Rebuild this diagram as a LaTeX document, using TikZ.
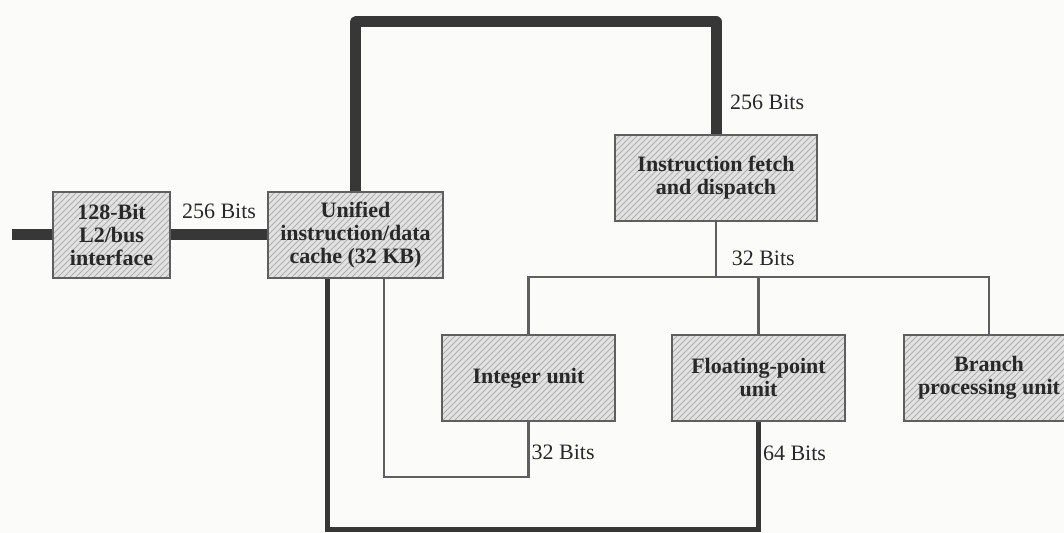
\documentclass[tikz,border=0pt]{standalone}
\usepackage{fontspec}
\setmainfont{Liberation Serif}
\usepackage{tikz}
\usetikzlibrary{patterns}
\definecolor{busgray}{RGB}{55,55,55}
\definecolor{boxedge}{RGB}{95,95,95}
\definecolor{boxfill}{RGB}{226,226,226}
\definecolor{hatchgray}{RGB}{175,175,175}
\definecolor{inkgray}{RGB}{40,40,40}
\definecolor{paper}{RGB}{251,251,250}
\tikzstyle{cpubox} = [draw=boxedge, line width=0.9pt, preaction={fill=boxfill}, pattern=north east lines, pattern color=hatchgray, minimum height=43pt, inner sep=2pt, align=center, text=inkgray, font=\fontsize{11}{11.5}\selectfont\bfseries]
\tikzstyle{widebus} = [draw=busgray, line width=5.5pt, line join=round]
\tikzstyle{midbus} = [draw=busgray, line width=2.5pt]
\tikzstyle{thinbus} = [draw=busgray!80, line width=1.1pt]
\tikzstyle{bits} = [text=inkgray, font=\fontsize{11}{12}\selectfont]

\begin{document}
\begin{tikzpicture}[x=0.5pt, y=-0.5pt]
	\useasboundingbox (0,0) rectangle (1064,533);
	\fill[paper] (0,0) rectangle (1064,533);
	\clip (0,0) rectangle (1064,533); %Bildbereich
	% Kaesten
	\node[cpubox, minimum width=58.5pt] (l2bus) at (111.5,235) {128-Bit\\L2/bus\\interface};
	\node[cpubox, minimum width=87.5pt] (cache) at (355.5,235) {Unified\\instruction/data\\cache (32 KB)};
	\node[cpubox, minimum width=101pt] (fetch) at (716,178) {Instruction fetch\\and dispatch};
	\node[cpubox, minimum width=86.5pt] (intu) at (528.5,378) {Integer unit};
	\node[cpubox, minimum width=86.5pt] (fpu) at (758.5,378) {Floating-point\\unit};
	\node[cpubox, minimum width=85pt] (bpu) at (989,378) {Branch\\processing unit};
	% Busse (256 Bit)
	\coordinate (ext) at (12,235);
	\coordinate (topbus) at (536,22);
	\draw[widebus] (ext) -- (l2bus.west);
	\draw[widebus] (l2bus) -- (cache) node[bits, midway, above=2pt] {256 Bits};
	\draw[widebus] (cache.north) |- (topbus) -| (fetch.north) node[bits, pos=0.86, right=1pt] {256 Bits};
	% Verteilung an die Einheiten
	\coordinate (fork) at (716,277);
	\draw[thinbus] (fetch.south) -- (fork) node[bits, pos=0.66, right=4pt] {32 Bits};
	\foreach \u in {intu,fpu,bpu} \draw[thinbus] (fork) -| (\u.north);
	% Datenpfade zum Cache
	\coordinate (intloop) at (384,477);
	\coordinate (fploop) at (327,529);
	\draw[thinbus] (intloop |- cache.south) -- (intloop) -| (intu.south) node[bits, pos=0.72, right, inner sep=1pt] {32 Bits};
	\draw[midbus] (fploop |- cache.south) -- (fploop) -| (fpu.south) node[bits, pos=0.855, right, inner sep=1pt] {64 Bits};
\end{tikzpicture}
\end{document}
